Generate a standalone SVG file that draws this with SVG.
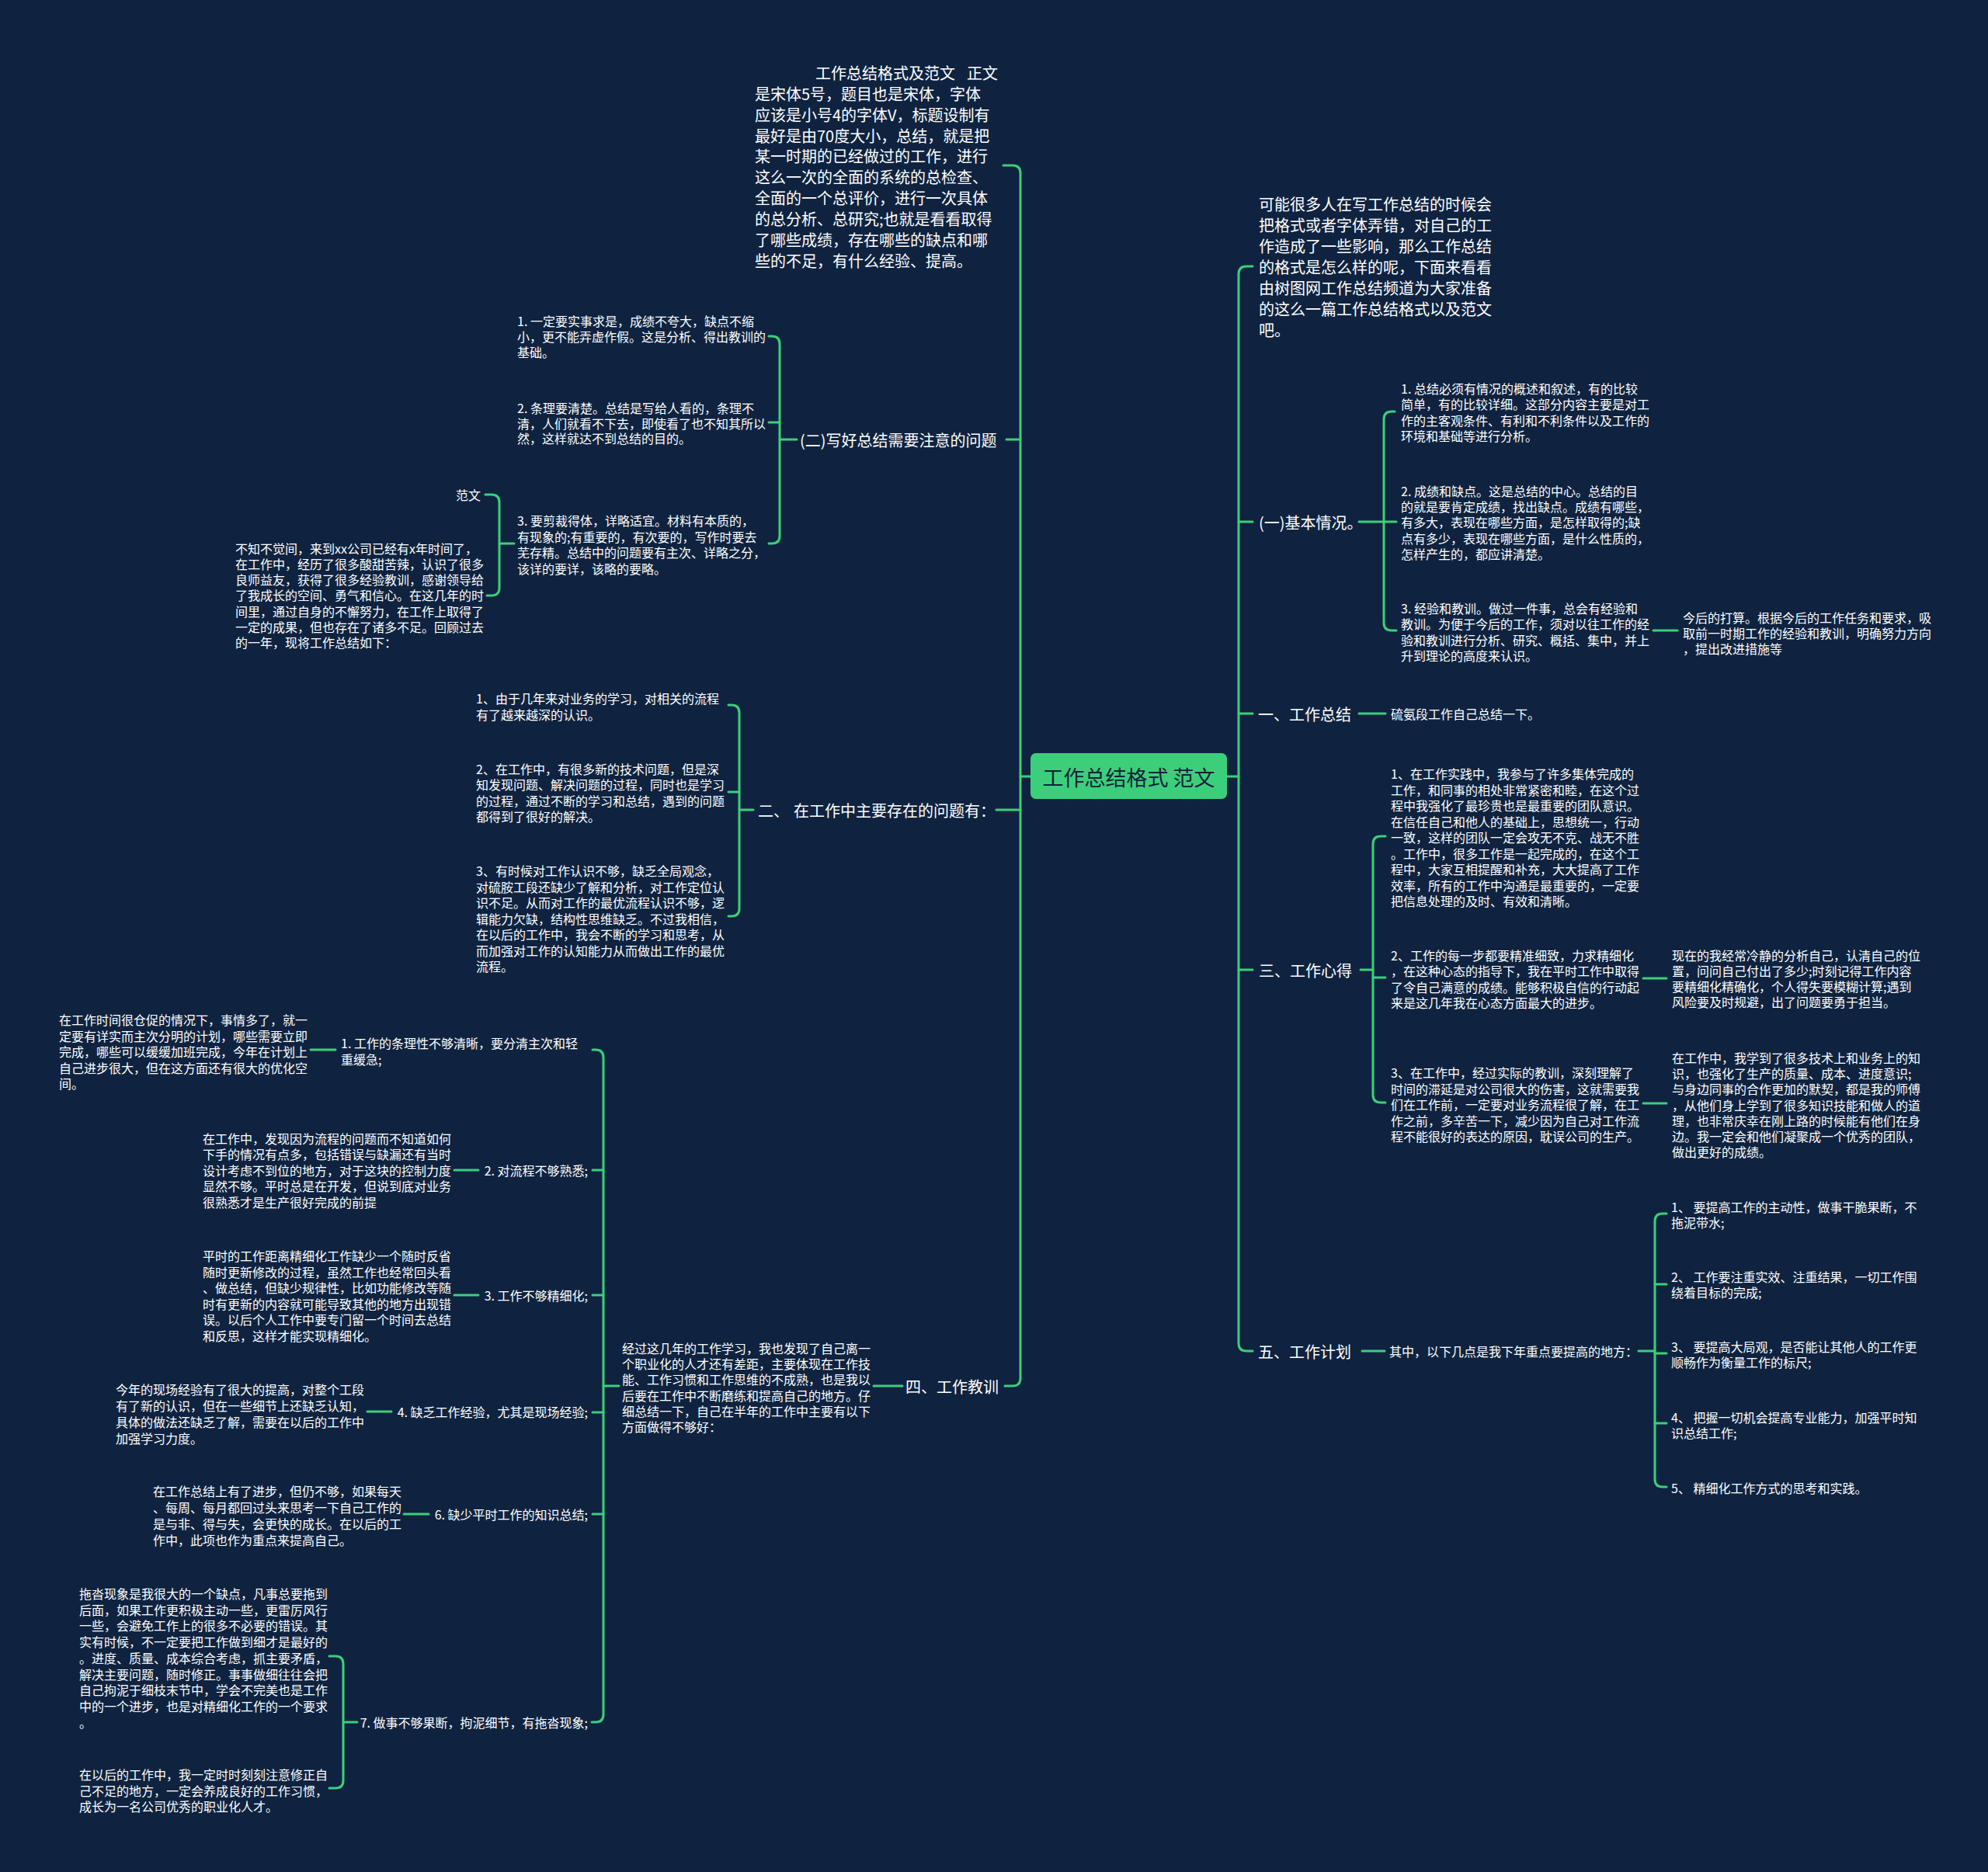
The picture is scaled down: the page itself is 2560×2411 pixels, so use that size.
<svg xmlns="http://www.w3.org/2000/svg" width="2560" height="2411" viewBox="0 0 2560 2411">
<style>
text{font-family:"Noto Sans CJK SC","Noto Sans",sans-serif;fill:#ffffff;dominant-baseline:central}
.s{font-size:16px}
.m{font-size:20px}
.e{text-anchor:end}
.root{font-size:27px;fill:#13233a;text-anchor:middle}
.c path{fill:none;stroke:#3ccf7b;stroke-width:3;stroke-linecap:round}
</style>
<rect width="2560" height="2411" fill="#0f2340"/>
<g class="c" id="connectors">
<path d="M1327 1000 L1314 1000"/>
<path d="M1292 213 L1304 213 Q1314 213 1314 223 L1314 1775 Q1314 1785 1304 1785 L1294 1785"/>
<path d="M1314 566 L1296 566"/>
<path d="M1314 1043 L1283 1043"/>
<path d="M1580 1000 L1595 1000"/>
<path d="M1613 343 L1605 343 Q1595 343 1595 353 L1595 1730 Q1595 1740 1605 1740 L1613 1740"/>
<path d="M1595 672 L1613 672"/>
<path d="M1595 919 L1613 919"/>
<path d="M1595 1249 L1613 1249"/>
<path d="M1026 566 L1004 566"/>
<path d="M990 433 L994 433 Q1004 433 1004 443 L1004 690 Q1004 700 994 700 L990 700"/>
<path d="M1004 544 L990 544"/>
<path d="M662 700 L643 700"/>
<path d="M625 637 L633 637 Q643 637 643 647 L643 757 Q643 767 633 767 L627 767"/>
<path d="M970 1043 L952 1043"/>
<path d="M938 908 L942 908 Q952 908 952 918 L952 1170 Q952 1180 942 1180 L938 1180"/>
<path d="M952 1020 L938 1020"/>
<path d="M1162 1785 L1125 1785"/>
<path d="M797 1785 L777 1785"/>
<path d="M763 1352 L767 1352 Q777 1352 777 1362 L777 2208 Q777 2218 767 2218 L762 2218"/>
<path d="M777 1507 L763 1507"/>
<path d="M777 1668 L763 1668"/>
<path d="M777 1819 L763 1819"/>
<path d="M777 1950 L763 1950"/>
<path d="M400 1352 L432 1352"/>
<path d="M585 1507 L616 1507"/>
<path d="M585 1668 L616 1668"/>
<path d="M473 1818 L504 1818"/>
<path d="M520 1950 L552 1950"/>
<path d="M460 2218 L442 2218"/>
<path d="M424 2133 L432 2133 Q442 2133 442 2143 L442 2293 Q442 2303 432 2303 L424 2303"/>
<path d="M1750 672 L1782 672"/>
<path d="M1796 530 L1792 530 Q1782 530 1782 540 L1782 802 Q1782 812 1792 812 L1798 812"/>
<path d="M1782 672 L1798 672"/>
<path d="M2129 812 L2160 812"/>
<path d="M1750 919 L1784 919"/>
<path d="M1752 1249 L1768 1249"/>
<path d="M1784 1077 L1778 1077 Q1768 1077 1768 1087 L1768 1410 Q1768 1420 1778 1420 L1784 1420"/>
<path d="M1768 1259 L1784 1259"/>
<path d="M2116 1260 L2146 1260"/>
<path d="M2116 1421 L2146 1421"/>
<path d="M1754 1740 L1783 1740"/>
<path d="M2110 1740 L2131 1740"/>
<path d="M2146 1563 L2141 1563 Q2131 1563 2131 1573 L2131 1905 Q2131 1915 2141 1915 L2146 1915"/>
<path d="M2131 1654 L2146 1654"/>
<path d="M2131 1743 L2146 1743"/>
<path d="M2131 1833 L2146 1833"/>
</g>
<g id="root">
<rect x="1327" y="970" width="253" height="59" rx="7" fill="#3ccf7b"/>
<text class="root" x="1453.5" y="1000">工作总结格式 范文</text>
</g>
<g id="left-intro">
<text class="m"><tspan x="1050" y="93">工作总结格式及范文</tspan><tspan x="1245" y="93">正文</tspan><tspan x="972" y="120">是宋体5号，题目也是宋体，字体</tspan><tspan x="972" y="147">应该是小号4的字体V，标题设制有</tspan><tspan x="972" y="174">最好是由70度大小，总结，就是把</tspan><tspan x="972" y="200">某一时期的已经做过的工作，进行</tspan><tspan x="972" y="227">这么一次的全面的系统的总检查、</tspan><tspan x="972" y="254">全面的一个总评价，进行一次具体</tspan><tspan x="972" y="281">的总分析、总研究;也就是看看取得</tspan><tspan x="972" y="308">了哪些成绩，存在哪些的缺点和哪</tspan><tspan x="972" y="335">些的不足，有什么经验、提高。</tspan></text>
</g>
<g id="b2-label"><text class="m" x="1030" y="566">(二)写好总结需要注意的问题</text></g>
<g id="b2-1"><text class="s"><tspan x="666" y="413">1. 一定要实事求是，成绩不夸大，缺点不缩</tspan><tspan x="666" y="433">小，更不能弄虚作假。这是分析、得出教训的</tspan><tspan x="666" y="453">基础。</tspan></text></g>
<g id="b2-2"><text class="s"><tspan x="666" y="525">2. 条理要清楚。总结是写给人看的，条理不</tspan><tspan x="666" y="544.5">清，人们就看不下去，即使看了也不知其所以</tspan><tspan x="666" y="564">然，这样就达不到总结的目的。</tspan></text></g>
<g id="b2-3"><text class="s"><tspan x="666" y="670">3. 要剪裁得体，详略适宜。材料有本质的，</tspan><tspan x="666" y="690.5">有现象的;有重要的，有次要的，写作时要去</tspan><tspan x="666" y="711">芜存精。总结中的问题要有主次、详略之分，</tspan><tspan x="666" y="731.5">该详的要详，该略的要略。</tspan></text></g>
<g id="fanwen"><text class="s" x="587" y="637">范文</text></g>
<g id="fanwen-text"><text class="s"><tspan x="303" y="705.5">不知不觉间，来到xx公司已经有x年时间了，</tspan><tspan x="303" y="725.8">在工作中，经历了很多酸甜苦辣，认识了很多</tspan><tspan x="303" y="746.1">良师益友，获得了很多经验教训，感谢领导给</tspan><tspan x="303" y="766.4">了我成长的空间、勇气和信心。在这几年的时</tspan><tspan x="303" y="786.7">间里，通过自身的不懈努力，在工作上取得了</tspan><tspan x="303" y="807">一定的成果，但也存在了诸多不足。回顾过去</tspan><tspan x="303" y="827.3">的一年，现将工作总结如下：</tspan></text></g>
<g id="er-label"><text class="m"><tspan x="976" y="1043">二、</tspan><tspan x="1022" y="1043">在工作中主要存在的问题有：</tspan></text></g>
<g id="er-1"><text class="s"><tspan x="613" y="899">1、由于几年来对业务的学习，对相关的流程</tspan><tspan x="613" y="919.5">有了越来越深的认识。</tspan></text></g>
<g id="er-2"><text class="s"><tspan x="613" y="989.5">2、在工作中，有很多新的技术问题，但是深</tspan><tspan x="613" y="1010">知发现问题、解决问题的过程，同时也是学习</tspan><tspan x="613" y="1030.5">的过程，通过不断的学习和总结，遇到的问题</tspan><tspan x="613" y="1051">都得到了很好的解决。</tspan></text></g>
<g id="er-3"><text class="s"><tspan x="613" y="1121">3、有时候对工作认识不够，缺乏全局观念，</tspan><tspan x="613" y="1141.5">对硫胺工段还缺少了解和分析，对工作定位认</tspan><tspan x="613" y="1162">识不足。从而对工作的最优流程认识不够，逻</tspan><tspan x="613" y="1182.5">辑能力欠缺，结构性思维缺乏。不过我相信，</tspan><tspan x="613" y="1203">在以后的工作中，我会不断的学习和思考，从</tspan><tspan x="613" y="1223.5">而加强对工作的认知能力从而做出工作的最优</tspan><tspan x="613" y="1244">流程。</tspan></text></g>
<g id="si-label"><text class="m" x="1166" y="1785">四、工作教训</text></g>
<g id="si-text"><text class="s"><tspan x="801" y="1736">经过这几年的工作学习，我也发现了自己离一</tspan><tspan x="801" y="1756.2">个职业化的人才还有差距，主要体现在工作技</tspan><tspan x="801" y="1776.4">能、工作习惯和工作思维的不成熟，也是我以</tspan><tspan x="801" y="1796.6">后要在工作中不断磨练和提高自己的地方。仔</tspan><tspan x="801" y="1816.8">细总结一下，自己在半年的工作中主要有以下</tspan><tspan x="801" y="1837">方面做得不够好：</tspan></text></g>
<g id="si-1"><text class="s"><tspan x="439" y="1343">1. 工作的条理性不够清晰，要分清主次和轻</tspan><tspan x="439" y="1364">重缓急;</tspan></text></g>
<g id="si-1-d"><text class="s"><tspan x="76" y="1313">在工作时间很仓促的情况下，事情多了，就一</tspan><tspan x="76" y="1333.5">定要有详实而主次分明的计划，哪些需要立即</tspan><tspan x="76" y="1354">完成，哪些可以缓缓加班完成，今年在计划上</tspan><tspan x="76" y="1374.5">自己进步很大，但在这方面还有很大的优化空</tspan><tspan x="76" y="1395">间。</tspan></text></g>
<g id="si-2"><text class="s e" x="757" y="1507">2. 对流程不够熟悉;</text></g>
<g id="si-2-d"><text class="s"><tspan x="261" y="1465.5">在工作中，发现因为流程的问题而不知道如何</tspan><tspan x="261" y="1486">下手的情况有点多，包括错误与缺漏还有当时</tspan><tspan x="261" y="1506.5">设计考虑不到位的地方，对于这块的控制力度</tspan><tspan x="261" y="1527">显然不够。平时总是在开发，但说到底对业务</tspan><tspan x="261" y="1547.5">很熟悉才是生产很好完成的前提</tspan></text></g>
<g id="si-3"><text class="s e" x="757" y="1668">3. 工作不够精细化;</text></g>
<g id="si-3-d"><text class="s"><tspan x="261" y="1617">平时的工作距离精细化工作缺少一个随时反省</tspan><tspan x="261" y="1637.6">随时更新修改的过程，虽然工作也经常回头看</tspan><tspan x="261" y="1658.2">、做总结，但缺少规律性，比如功能修改等随</tspan><tspan x="261" y="1678.8">时有更新的内容就可能导致其他的地方出现错</tspan><tspan x="261" y="1699.4">误。以后个人工作中要专门留一个时间去总结</tspan><tspan x="261" y="1720">和反思，这样才能实现精细化。</tspan></text></g>
<g id="si-4"><text class="s e" x="757" y="1818">4. 缺乏工作经验，尤其是现场经验;</text></g>
<g id="si-4-d"><text class="s"><tspan x="149" y="1789">今年的现场经验有了很大的提高，对整个工段</tspan><tspan x="149" y="1810">有了新的认识，但在一些细节上还缺乏认知，</tspan><tspan x="149" y="1831">具体的做法还缺乏了解，需要在以后的工作中</tspan><tspan x="149" y="1852">加强学习力度。</tspan></text></g>
<g id="si-6"><text class="s e" x="757" y="1950">6. 缺少平时工作的知识总结;</text></g>
<g id="si-6-d"><text class="s"><tspan x="197" y="1920">在工作总结上有了进步，但仍不够，如果每天</tspan><tspan x="197" y="1941">、每周、每月都回过头来思考一下自己工作的</tspan><tspan x="197" y="1962">是与非、得与失，会更快的成长。在以后的工</tspan><tspan x="197" y="1983">作中，此项也作为重点来提高自己。</tspan></text></g>
<g id="si-7"><text class="s e" x="757" y="2218">7. 做事不够果断，拘泥细节，有拖沓现象;</text></g>
<g id="si-7-a"><text class="s"><tspan x="102" y="2052">拖沓现象是我很大的一个缺点，凡事总要拖到</tspan><tspan x="102" y="2072.7">后面，如果工作更积极主动一些，更雷厉风行</tspan><tspan x="102" y="2093.4">一些，会避免工作上的很多不必要的错误。其</tspan><tspan x="102" y="2114.1">实有时候，不一定要把工作做到细才是最好的</tspan><tspan x="102" y="2134.8">。进度、质量、成本综合考虑，抓主要矛盾，</tspan><tspan x="102" y="2155.5">解决主要问题，随时修正。事事做细往往会把</tspan><tspan x="102" y="2176.2">自己拘泥于细枝末节中，学会不完美也是工作</tspan><tspan x="102" y="2196.9">中的一个进步，也是对精细化工作的一个要求</tspan><tspan x="102" y="2217.6">。</tspan></text></g>
<g id="si-7-b"><text class="s"><tspan x="102" y="2285">在以后的工作中，我一定时时刻刻注意修正自</tspan><tspan x="102" y="2305.5">己不足的地方，一定会养成良好的工作习惯，</tspan><tspan x="102" y="2326">成长为一名公司优秀的职业化人才。</tspan></text></g>
<g id="right-intro"><text class="m"><tspan x="1621" y="262">可能很多人在写工作总结的时候会</tspan><tspan x="1621" y="289">把格式或者字体弄错，对自己的工</tspan><tspan x="1621" y="316">作造成了一些影响，那么工作总结</tspan><tspan x="1621" y="343">的格式是怎么样的呢，下面来看看</tspan><tspan x="1621" y="370">由树图网工作总结频道为大家准备</tspan><tspan x="1621" y="397">的这么一篇工作总结格式以及范文</tspan><tspan x="1621" y="424">吧。</tspan></text></g>
<g id="b1-label"><text class="m" x="1621" y="672">(一)基本情况。</text></g>
<g id="b1-1"><text class="s"><tspan x="1804" y="500">1. 总结必须有情况的概述和叙述，有的比较</tspan><tspan x="1804" y="520.3">简单，有的比较详细。这部分内容主要是对工</tspan><tspan x="1804" y="540.6">作的主客观条件、有利和不利条件以及工作的</tspan><tspan x="1804" y="561">环境和基础等进行分析。</tspan></text></g>
<g id="b1-2"><text class="s"><tspan x="1804" y="632">2. 成绩和缺点。这是总结的中心。总结的目</tspan><tspan x="1804" y="652.2">的就是要肯定成绩，找出缺点。成绩有哪些，</tspan><tspan x="1804" y="672.4">有多大，表现在哪些方面，是怎样取得的;缺</tspan><tspan x="1804" y="692.6">点有多少，表现在哪些方面，是什么性质的，</tspan><tspan x="1804" y="712.8">怎样产生的，都应讲清楚。</tspan></text></g>
<g id="b1-3"><text class="s"><tspan x="1804" y="783">3. 经验和教训。做过一件事，总会有经验和</tspan><tspan x="1804" y="803.3">教训。为便于今后的工作，须对以往工作的经</tspan><tspan x="1804" y="823.6">验和教训进行分析、研究、概括、集中，并上</tspan><tspan x="1804" y="844">升到理论的高度来认识。</tspan></text></g>
<g id="b1-3-d"><text class="s"><tspan x="2167" y="795">今后的打算。根据今后的工作任务和要求，吸</tspan><tspan x="2167" y="815">取前一时期工作的经验和教训，明确努力方向</tspan><tspan x="2167" y="835">，提出改进措施等</tspan></text></g>
<g id="yi-label"><text class="m" x="1620" y="919">一、工作总结</text></g>
<g id="yi-1"><text class="s" x="1791" y="919">硫氨段工作自己总结一下。</text></g>
<g id="san-label"><text class="m" x="1621" y="1249">三、工作心得</text></g>
<g id="san-1"><text class="s"><tspan x="1791" y="996">1、在工作实践中，我参与了许多集体完成的</tspan><tspan x="1791" y="1016.5">工作，和同事的相处非常紧密和睦，在这个过</tspan><tspan x="1791" y="1037">程中我强化了最珍贵也是最重要的团队意识。</tspan><tspan x="1791" y="1057.5">在信任自己和他人的基础上，思想统一，行动</tspan><tspan x="1791" y="1078">一致，这样的团队一定会攻无不克、战无不胜</tspan><tspan x="1791" y="1098.5">。工作中，很多工作是一起完成的，在这个工</tspan><tspan x="1791" y="1119">程中，大家互相提醒和补充，大大提高了工作</tspan><tspan x="1791" y="1139.5">效率，所有的工作中沟通是最重要的，一定要</tspan><tspan x="1791" y="1160">把信息处理的及时、有效和清晰。</tspan></text></g>
<g id="san-2"><text class="s"><tspan x="1791" y="1230">2、工作的每一步都要精准细致，力求精细化</tspan><tspan x="1791" y="1250.4">，在这种心态的指导下，我在平时工作中取得</tspan><tspan x="1791" y="1270.8">了令自己满意的成绩。能够积极自信的行动起</tspan><tspan x="1791" y="1291.2">来是这几年我在心态方面最大的进步。</tspan></text></g>
<g id="san-2-d"><text class="s"><tspan x="2153" y="1230">现在的我经常冷静的分析自己，认清自己的位</tspan><tspan x="2153" y="1250">置，问问自己付出了多少;时刻记得工作内容</tspan><tspan x="2153" y="1270">要精细化精确化，个人得失要模糊计算;遇到</tspan><tspan x="2153" y="1290">风险要及时规避，出了问题要勇于担当。</tspan></text></g>
<g id="san-3"><text class="s"><tspan x="1791" y="1381">3、在工作中，经过实际的教训，深刻理解了</tspan><tspan x="1791" y="1401.5">时间的滞延是对公司很大的伤害，这就需要我</tspan><tspan x="1791" y="1422">们在工作前，一定要对业务流程很了解，在工</tspan><tspan x="1791" y="1442.5">作之前，多辛苦一下，减少因为自己对工作流</tspan><tspan x="1791" y="1463">程不能很好的表达的原因，耽误公司的生产。</tspan></text></g>
<g id="san-3-d"><text class="s"><tspan x="2153" y="1362">在工作中，我学到了很多技术上和业务上的知</tspan><tspan x="2153" y="1382.2">识，也强化了生产的质量、成本、进度意识;</tspan><tspan x="2153" y="1402.4">与身边同事的合作更加的默契，都是我的师傅</tspan><tspan x="2153" y="1422.6">，从他们身上学到了很多知识技能和做人的道</tspan><tspan x="2153" y="1442.8">理，也非常庆幸在刚上路的时候能有他们在身</tspan><tspan x="2153" y="1463">边。我一定会和他们凝聚成一个优秀的团队，</tspan><tspan x="2153" y="1483.2">做出更好的成绩。</tspan></text></g>
<g id="wu-label"><text class="m" x="1620" y="1740">五、工作计划</text></g>
<g id="wu-text"><text class="s" x="1789" y="1740">其中，以下几点是我下年重点要提高的地方：</text></g>
<g id="wu-1"><text class="s"><tspan x="2152" y="1554">1、 要提高工作的主动性，做事干脆果断，不</tspan><tspan x="2152" y="1574">拖泥带水;</tspan></text></g>
<g id="wu-2"><text class="s"><tspan x="2152" y="1644">2、 工作要注重实效、注重结果，一切工作围</tspan><tspan x="2152" y="1664">绕着目标的完成;</tspan></text></g>
<g id="wu-3"><text class="s"><tspan x="2152" y="1734">3、 要提高大局观，是否能让其他人的工作更</tspan><tspan x="2152" y="1754">顺畅作为衡量工作的标尺;</tspan></text></g>
<g id="wu-4"><text class="s"><tspan x="2152" y="1825">4、 把握一切机会提高专业能力，加强平时知</tspan><tspan x="2152" y="1845">识总结工作;</tspan></text></g>
<g id="wu-5"><text class="s" x="2152" y="1916">5、 精细化工作方式的思考和实践。</text></g>
</svg>
